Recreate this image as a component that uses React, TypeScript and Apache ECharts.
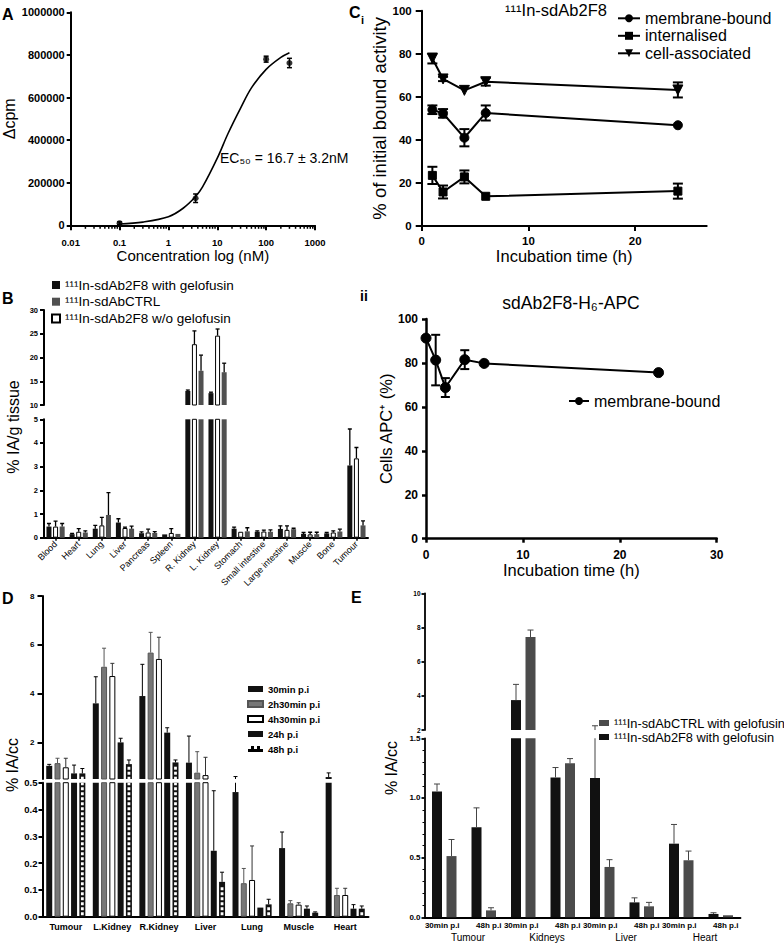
import React, { useEffect, useRef } from 'react';
import * as echarts from 'echarts';

const FONT = '"Liberation Sans", Arial, Helvetica, sans-serif';

// ---------- Panel A ----------
const A_CONC = [0.1, 3.6, 100, 300];
const A_DCPM = [10000, 127000, 780000, 762000];
const A_DCPM_ERR = [6000, 20000, 14000, 22000];
const A_FIT_CONC = [0.1, 0.3, 1, 2, 3.6, 5, 10, 16.7, 30, 50, 100, 200, 300];
const A_FIT_DCPM = [6000, 15000, 40000, 80000, 135000, 180000, 315000, 432000, 550000, 645000, 732000, 788000, 810000];
const A_MINOR_TICKS = [
  0.02, 0.03, 0.04, 0.05, 0.06, 0.07, 0.08, 0.09,
  0.2, 0.3, 0.4, 0.5, 0.6, 0.7, 0.8, 0.9,
  2, 3, 4, 5, 6, 7, 8, 9,
  20, 30, 40, 50, 60, 70, 80, 90,
  200, 300, 400, 500, 600, 700, 800, 900,
];

// ---------- Panel Ci ----------
const CI_TIME = [1, 2, 4, 6, 24];
const CI_MEMBRANE = [54, 52.3, 41, 52.5, 46.8];
const CI_MEMBRANE_ERR = [2, 2, 4, 3.5, 0];
const CI_INTERNAL = [23.5, 15.8, 22.8, 13.8, 16.2];
const CI_INTERNAL_ERR = [4, 3, 3, 0, 3.5];
const CI_CELL = [77.8, 68.3, 63, 67, 63.2];
const CI_CELL_ERR = [2.3, 1, 0, 1.8, 3.5];

// ---------- Panel Cii ----------
const CII_TIME = [0, 1, 2, 4, 6, 24];
const CII_MEMBRANE = [91.3, 81.3, 68.8, 81.5, 79.8, 75.6];
const CII_MEMBRANE_ERR = [0, 11.5, 4.3, 4.3, 0, 0];

// ---------- Panel B ----------
const B_ORGANS = ['Blood', 'Heart', 'Lung', 'Liver', 'Pancreas', 'Spleen', 'R. Kidney', 'L. Kidney', 'Stomach', 'Small intestine', 'Large intestine', 'Muscle', 'Bone', 'Tumour'];
const B_GELO = [0.47, 0.15, 0.38, 0.64, 0.19, 0.14, 12.95, 12.5, 0.38, 0.25, 0.37, 0.16, 0.18, 3.05];
const B_GELO_ERR = [0.13, 0.03, 0.14, 0.16, 0.06, 0.02, 0.2, 0.2, 0.07, 0.04, 0.13, 0.06, 0.04, 1.54];
const B_NOGELO = [0.47, 0.25, 0.52, 0.41, 0.22, 0.2, 22.8, 24.6, 0.25, 0.26, 0.33, 0.14, 0.22, 3.35];
const B_NOGELO_ERR = [0.23, 0.13, 0.34, 0.04, 0.14, 0.18, 2.8, 1.4, 0.02, 0.06, 0.17, 0.09, 0.07, 0.46];
const B_CTRL = [0.47, 0.22, 0.96, 0.38, 0.2, 0.16, 17.2, 16.9, 0.27, 0.25, 0.36, 0.15, 0.26, 0.52];
const B_CTRL_ERR = [0.13, 0.07, 0.94, 0.11, 0.06, 0.02, 3.3, 1.9, 0.15, 0.08, 0.04, 0.08, 0.1, 0.19];

// ---------- Panel D ----------
const D_ORGANS = ['Tumour', 'L.Kidney', 'R.Kidney', 'Liver', 'Lung', 'Muscle', 'Heart'];
const D_30MIN = [1.04, 3.6, 3.9, 1.17, 0.465, 0.256, 0.58];
const D_30MIN_ERR = [0.06, 1.09, 1.3, 1.09, 0.135, 0.06, 0.17];
const D_2H30 = [1.15, 5.1, 5.68, 0.76, 0.125, 0.05, 0.081];
const D_2H30_ERR = [0.2, 0.76, 0.83, 0.86, 0.055, 0.01, 0.025];
const D_4H30 = [0.98, 4.72, 5.42, 0.66, 0.137, 0.045, 0.081];
const D_4H30_ERR = [0.37, 0.52, 0.89, 0.73, 0.127, 0.007, 0.025];
const D_24H = [0.73, 2.0, 2.4, 0.246, 0.034, 0.03, 0.03];
const D_24H_ERR = [0.34, 0.17, 0.2, 0.224, 0, 0.01, 0.015];
const D_48H = [0.73, 1.11, 1.18, 0.13, 0.046, 0.015, 0.03];
const D_48H_ERR = [0.2, 0.17, 0.1, 0.036, 0.019, 0.003, 0.01];

// ---------- Panel E ----------
const E_TISSUES = ['Tumour', 'Kidneys', 'Liver', 'Heart'];
const E_TIMEPOINTS = ['30min p.i', '48h p.i'];
const E_2F8 = [1.055, 0.755, 3.75, 1.172, 1.167, 0.125, 0.617, 0.028];
const E_2F8_ERR = [0.062, 0.162, 0.92, 0.083, 1.08, 0.038, 0.161, 0.01];
const E_CTRL = [0.513, 0.058, 7.44, 1.29, 0.422, 0.092, 0.478, 0.017];
const E_CTRL_ERR = [0.139, 0.022, 0.41, 0.04, 0.061, 0.033, 0.077, 0.004];

const E_CATS = E_TISSUES.flatMap(() => E_TIMEPOINTS);

const N_GELO = '¹¹¹In-sdAb2F8 with gelofusin';
const N_CTRL = '¹¹¹In-sdAbCTRL';
const N_NOGELO = '¹¹¹In-sdAb2F8 w/o gelofusin';
const N_E_CTRL = '¹¹¹In-sdAbCTRL with gelofusin';
const D_NAMES = ['30min p.i', '2h30min p.i', '4h30min p.i', '24h p.i', '48h p.i'];

const BLACK = '#111111';

function symErr(xs: number[], ys: number[], errs: number[], axis: number, capHalf: number, lw: number) {
  return {
    type: 'custom',
    xAxisIndex: axis,
    yAxisIndex: axis,
    z: 4,
    silent: true,
    data: xs.map((x, i) => [x, ys[i] - errs[i], ys[i] + errs[i]]),
    renderItem: (_p: any, api: any) => {
      const lo = api.coord([api.value(0), api.value(1)]);
      const hi = api.coord([api.value(0), api.value(2)]);
      if (Math.abs(lo[1] - hi[1]) < 0.5) return { type: 'group', children: [] };
      const x = lo[0];
      const st = { stroke: '#000', lineWidth: lw };
      return {
        type: 'group',
        children: [
          { type: 'line', shape: { x1: x, y1: lo[1], x2: x, y2: hi[1] }, style: st },
          { type: 'line', shape: { x1: x - capHalf, y1: lo[1], x2: x + capHalf, y2: lo[1] }, style: st },
          { type: 'line', shape: { x1: x - capHalf, y1: hi[1], x2: x + capHalf, y2: hi[1] }, style: st },
        ],
      };
    },
  };
}

function barCenter(cx: number, idx: number, n: number, w: number, gap: number) {
  const total = n * w + (n - 1) * gap;
  return cx - total / 2 + w / 2 + idx * (w + gap);
}

function barErr(values: number[], errs: number[], axis: number, idx: number, n: number, w: number, gap: number, color: string, capHalf: number, lw: number) {
  return {
    type: 'custom',
    xAxisIndex: axis,
    yAxisIndex: axis,
    z: 4,
    silent: true,
    clip: true,
    data: values.map((v, i) => [i, v, v + errs[i]]),
    renderItem: (_p: any, api: any) => {
      const b = api.coord([api.value(0), api.value(1)]);
      const t = api.coord([api.value(0), api.value(2)]);
      if (b[1] - t[1] < 0.5) return { type: 'group', children: [] };
      const x = barCenter(b[0], idx, n, w, gap);
      const st = { stroke: color, lineWidth: lw };
      return {
        type: 'group',
        children: [
          { type: 'line', shape: { x1: x, y1: b[1], x2: x, y2: t[1] }, style: st },
          { type: 'line', shape: { x1: x - capHalf, y1: t[1], x2: x + capHalf, y2: t[1] }, style: st },
        ],
      };
    },
  };
}

function checker(values: number[], axis: number, idx: number, n: number, w: number, gap: number) {
  return {
    type: 'custom',
    xAxisIndex: axis,
    yAxisIndex: axis,
    z: 3,
    silent: true,
    clip: true,
    data: values.map((v, i) => [i, v]),
    renderItem: (_p: any, api: any) => {
      const b = api.coord([api.value(0), 0]);
      const t = api.coord([api.value(0), api.value(1)]);
      const x = barCenter(b[0], idx, n, w, gap);
      const children: any[] = [];
      for (let y = b[1] - 1.5; y - 3 >= t[1] + 1; y -= 5) {
        children.push({ type: 'rect', shape: { x: x - 1.4, y: y - 3, width: 2.8, height: 3 }, style: { fill: '#fff' } });
      }
      return { type: 'group', children };
    },
  };
}

function bar(name: string, data: number[], axis: number, w: number, gapPct: string, color: string, border?: string, bw?: number) {
  return {
    type: 'bar',
    name,
    xAxisIndex: axis,
    yAxisIndex: axis,
    data,
    barWidth: w,
    barGap: gapPct,
    clip: true,
    z: 2,
    itemStyle: { color, borderColor: border || color, borderWidth: bw || 0 },
  };
}

const numFmt = (v: number) => String(+Number(v).toPrecision(6));

function vAxis(grid: number, extra: any, lw: number, tickLen: number, labelSize: number, margin: number) {
  return {
    gridIndex: grid,
    type: 'value',
    splitLine: { show: false },
    axisLine: { show: true, onZero: false, lineStyle: { color: '#000', width: lw } },
    axisTick: { show: true, length: tickLen, lineStyle: { color: '#000', width: lw }, ...(extra.tickExtra || {}) },
    axisLabel: { color: '#000', fontWeight: 'bold', fontSize: labelSize, margin, fontFamily: FONT, formatter: numFmt, ...(extra.labelExtra || {}) },
    ...extra.base,
  };
}

export default function App() {
  const ref = useRef<HTMLDivElement>(null);

  useEffect(() => {
    if (!ref.current) return;
    const chart = echarts.init(ref.current, undefined, { renderer: 'svg' });

    const grids = [
      { left: 70.7, top: 12.3, width: 244.3, height: 213 }, // A
      { left: 421.7, top: 10.7, width: 285, height: 215.3 }, // Ci
      { left: 426, top: 319, width: 290.7, height: 219.7 }, // Cii
      { left: 44, top: 310, width: 324, height: 95 }, // B upper
      { left: 44, top: 419.3, width: 324, height: 118.4 }, // B lower
      { left: 42.5, top: 596, width: 326, height: 183 }, // D upper
      { left: 42.5, top: 782.7, width: 326, height: 134 }, // D lower
      { left: 424.5, top: 593.3, width: 316, height: 136.7 }, // E upper
      { left: 424.5, top: 738.3, width: 316, height: 179 }, // E lower
    ].map((g) => ({ ...g, outerBoundsMode: 'none', containLabel: false, show: false }));

    const catAxisHidden = (grid: number, data: string[]) => ({ gridIndex: grid, type: 'category', data, show: false });

    const xAxis: any[] = [
      vAxis(0, {
        base: {
          type: 'log', logBase: 10, min: 0.01, max: 1000,
          name: 'Concentration log (nM)', nameLocation: 'middle', nameGap: 23,
          nameTextStyle: { fontSize: 15, color: '#000', fontFamily: FONT },
        },
      }, 2, 5, 9.5, 12),
      vAxis(1, {
        base: {
          min: 0, max: 26.7,
          name: 'Incubation time (h)', nameLocation: 'middle', nameGap: 20,
          nameTextStyle: { fontSize: 16.5, color: '#000', fontFamily: FONT },
        },
        tickExtra: { customValues: [0, 10, 20] },
        labelExtra: { customValues: [0, 10, 20] },
      }, 2, 5, 11.5, 9),
      vAxis(2, {
        base: {
          min: 0, max: 30, interval: 10,
          name: 'Incubation time (h)', nameLocation: 'middle', nameGap: 23,
          nameTextStyle: { fontSize: 16.5, color: '#000', fontFamily: FONT },
        },
      }, 2.5, 4, 12, 10),
      catAxisHidden(3, B_ORGANS),
      {
        gridIndex: 4, type: 'category', data: B_ORGANS,
        axisLine: { show: true, onZero: false, lineStyle: { color: '#000', width: 2 } },
        axisTick: { show: true, alignWithLabel: true, length: 3, lineStyle: { color: '#000', width: 1.5 } },
        axisLabel: { interval: 0, rotate: 45, fontSize: 9, color: '#000', margin: 5, fontFamily: FONT },
      },
      catAxisHidden(5, D_ORGANS),
      {
        gridIndex: 6, type: 'category', data: D_ORGANS,
        axisLine: { show: true, onZero: false, lineStyle: { color: '#000', width: 2 } },
        axisTick: { show: false },
        axisLabel: { interval: 0, fontSize: 9, fontWeight: 'bold', color: '#000', margin: 6, fontFamily: FONT },
      },
      catAxisHidden(7, E_CATS),
      {
        gridIndex: 8, type: 'category', data: E_CATS,
        axisLine: { show: true, onZero: false, lineStyle: { color: '#000', width: 1.8 } },
        axisTick: { show: false },
        axisLabel: {
          interval: 0, margin: 4, fontFamily: FONT,
          formatter: (v: string, i: number) => (i % 2 === 0 ? `{a|${v}}` : `{b|${v}}`),
          rich: {
            a: { fontSize: 8, fontWeight: 'bold', color: '#000', padding: [0, 4, 0, 0], fontFamily: FONT },
            b: { fontSize: 8, fontWeight: 'bold', color: '#000', padding: [0, 0, 0, 10], fontFamily: FONT },
          },
        },
      },
      {
        gridIndex: 8, type: 'category', data: E_TISSUES, position: 'bottom', offset: 13,
        axisLine: { show: false }, axisTick: { show: false },
        axisLabel: { interval: 0, fontSize: 10, color: '#000', margin: 2, padding: [0, 0, 0, 8], fontFamily: FONT },
      },
    ];

    const yAxis: any[] = [
      vAxis(0, {
        base: {
          min: 0, max: 1000000, interval: 200000,
          name: 'Δcpm', nameLocation: 'middle', nameGap: 50,
          nameTextStyle: { fontSize: 16, color: '#000', fontFamily: FONT },
        },
      }, 2, 4, 11, 6),
      vAxis(1, {
        base: {
          min: 0, max: 100, interval: 20,
          name: '% of initial bound activity', nameLocation: 'middle', nameGap: 25,
          nameTextStyle: { fontSize: 18.5, color: '#000', fontFamily: FONT },
        },
      }, 2, 6, 11.5, 10),
      vAxis(2, {
        base: {
          min: 0, max: 100, interval: 20,
          name: 'Cells APC⁺ (%)', nameLocation: 'middle', nameGap: 28,
          nameTextStyle: { fontSize: 16.5, color: '#000', fontFamily: FONT },
        },
      }, 2.5, 4, 12, 8),
      vAxis(3, { base: { min: 10, max: 30, interval: 5 } }, 2, 4, 7.5, 6),
      vAxis(4, { base: { min: 0, max: 5, interval: 1 } }, 2, 4, 7.5, 6),
      vAxis(5, {
        base: { min: 0.5, max: 8 },
        tickExtra: { customValues: [2, 4, 6, 8] },
        labelExtra: { customValues: [2, 4, 6, 8] },
      }, 2, 5, 8, 8),
      vAxis(6, {
        base: { min: 0, max: 0.5, interval: 0.1 },
        labelExtra: { formatter: (v: number) => Number(v).toFixed(1) },
      }, 2, 4, 9.5, 5),
      vAxis(7, { base: { min: 2, max: 10, interval: 2 } }, 1.8, 3, 6.5, 4),
      vAxis(8, {
        base: {
          min: 0, max: 1.5, interval: 0.5,
          minorTick: { show: true, splitNumber: 5, length: 2, lineStyle: { color: '#000', width: 1 } },
        },
        labelExtra: { formatter: (v: number) => Number(v).toFixed(1) },
      }, 1.8, 3, 8, 4),
    ];

    const series: any[] = [];

    // ----- A -----
    series.push({
      type: 'line', name: 'fit', xAxisIndex: 0, yAxisIndex: 0, smooth: 0.35, showSymbol: false, silent: true,
      data: A_FIT_CONC.map((c, i) => [c, A_FIT_DCPM[i]]),
      lineStyle: { color: '#000', width: 1.6 },
    });
    series.push({
      type: 'scatter', name: 'points', xAxisIndex: 0, yAxisIndex: 0, symbolSize: 6, z: 5,
      data: A_CONC.map((c, i) => [c, A_DCPM[i]]),
      itemStyle: { color: '#000' },
    });
    series.push(symErr(A_CONC, A_DCPM, A_DCPM_ERR, 0, 2.5, 1.5));
    series.push({
      type: 'custom', xAxisIndex: 0, yAxisIndex: 0, silent: true, z: 6,
      data: A_MINOR_TICKS.map((v) => [v, 0]),
      renderItem: (_p: any, api: any) => {
        const pt = api.coord([api.value(0), api.value(1)]);
        return { type: 'line', shape: { x1: pt[0], y1: pt[1], x2: pt[0], y2: pt[1] + 3.5 }, style: { stroke: '#000', lineWidth: 1.5 } };
      },
    });

    // ----- Ci -----
    const lineS = (name: string, xs: number[], ys: number[], axis: number, symbol: string, size: number, rot = 0) => ({
      type: 'line', name, xAxisIndex: axis, yAxisIndex: axis, data: xs.map((x, i) => [x, ys[i]]),
      symbol, symbolSize: size, symbolRotate: rot, showSymbol: true, z: 5,
      lineStyle: { color: '#000', width: 2 }, itemStyle: { color: '#000', borderColor: '#000' },
    });
    series.push(lineS('membrane-bound', CI_TIME, CI_MEMBRANE, 1, 'circle', 9));
    series.push(lineS('internalised', CI_TIME, CI_INTERNAL, 1, 'rect', 8));
    series.push(lineS('cell-associated', CI_TIME, CI_CELL, 1, 'triangle', 10, 180));
    series.push(symErr(CI_TIME, CI_MEMBRANE, CI_MEMBRANE_ERR, 1, 5, 2));
    series.push(symErr(CI_TIME, CI_INTERNAL, CI_INTERNAL_ERR, 1, 5, 2));
    series.push(symErr(CI_TIME, CI_CELL, CI_CELL_ERR, 1, 5, 2));

    // ----- Cii -----
    series.push(lineS('membrane-bound', CII_TIME, CII_MEMBRANE, 2, 'circle', 10));
    series.push(symErr(CII_TIME, CII_MEMBRANE, CII_MEMBRANE_ERR, 2, 4.5, 2));

    // ----- B -----
    const BW = 5, BG = '32%', BGPX = 1.6;
    [3, 4].forEach((ax) => {
      series.push(bar(N_GELO, B_GELO, ax, BW, BG, BLACK));
      series.push(bar(N_NOGELO, B_NOGELO, ax, BW, BG, '#ffffff', '#000', 1));
      series.push(bar(N_CTRL, B_CTRL, ax, BW, BG, '#505050'));
      series.push(barErr(B_GELO, B_GELO_ERR, ax, 0, 3, BW, BGPX, '#000', 2, 1.3));
      series.push(barErr(B_NOGELO, B_NOGELO_ERR, ax, 1, 3, BW, BGPX, '#000', 2, 1.3));
      series.push(barErr(B_CTRL, B_CTRL_ERR, ax, 2, 3, BW, BGPX, '#000', 2, 1.3));
    });

    // ----- D -----
    const DW = 6, DG = '38%', DGPX = 6 * 0.38;
    const dVals = [D_30MIN, D_2H30, D_4H30, D_24H, D_48H];
    const dErrs = [D_30MIN_ERR, D_2H30_ERR, D_4H30_ERR, D_24H_ERR, D_48H_ERR];
    const dFill = [BLACK, '#777777', '#ffffff', BLACK, BLACK];
    const dBorder = [BLACK, '#555555', '#000000', BLACK, BLACK];
    const dErrColor = ['#000', '#555', '#333', '#000', '#000'];
    [5, 6].forEach((ax) => {
      dVals.forEach((vals, k) => {
        series.push(bar(D_NAMES[k], vals, ax, DW, DG, dFill[k], dBorder[k], k === 2 || k === 1 ? 1 : 0));
        series.push(barErr(vals, dErrs[k], ax, k, 5, DW, DGPX, dErrColor[k], 2, 1));
      });
      series.push(checker(D_48H, ax, 4, 5, DW, DGPX));
    });

    // ----- E -----
    const EW = 10, EG = '45%', EGPX = 4.5;
    [7, 8].forEach((ax) => {
      series.push(bar(N_GELO, E_2F8, ax, EW, EG, BLACK));
      series.push(bar(N_E_CTRL, E_CTRL, ax, EW, EG, '#4b4b4b'));
      series.push(barErr(E_2F8, E_2F8_ERR, ax, 0, 2, EW, EGPX, '#444', 3, 1));
      series.push(barErr(E_CTRL, E_CTRL_ERR, ax, 1, 2, EW, EGPX, '#444', 3, 1));
    });

    const legendBase = {
      orient: 'vertical', selectedMode: false, padding: 0,
    };

    const dLegendData: any[] = D_NAMES.map((n, k) =>
      k === 4
        ? {
            name: n,
            itemStyle: {
              color: '#000',
              decal: { symbol: 'rect', symbolSize: 1, color: '#fff', dashArrayX: [3, 3], dashArrayY: [3, 3], rotation: 0 },
            },
          }
        : n,
    );

    const legend: any[] = [
      {
        ...legendBase, left: 617, top: 10.3, itemWidth: 22, itemHeight: 10, itemGap: 1.5,
        data: ['membrane-bound', 'internalised', 'cell-associated'],
        textStyle: { fontSize: 16, lineHeight: 16, color: '#000', fontFamily: FONT },
      },
      {
        ...legendBase, left: 568, top: 393, itemWidth: 20, itemHeight: 10,
        data: ['membrane-bound'],
        textStyle: { fontSize: 16, lineHeight: 16, color: '#000', fontFamily: FONT },
      },
      {
        ...legendBase, left: 51, top: 277.5, itemWidth: 8, itemHeight: 8, itemGap: 1.7, icon: 'rect',
        data: [N_GELO, N_CTRL, N_NOGELO],
        textStyle: { fontSize: 13.5, lineHeight: 15, color: '#000', fontFamily: FONT },
      },
      {
        ...legendBase, left: 247, top: 684, itemWidth: 15, itemHeight: 6, itemGap: 5, icon: 'rect',
        data: dLegendData,
        textStyle: { fontSize: 9.5, lineHeight: 10, fontWeight: 'bold', color: '#000', fontFamily: FONT },
      },
      {
        ...legendBase, left: 599, top: 716.5, itemWidth: 10, itemHeight: 6, itemGap: 1, icon: 'rect',
        data: [N_E_CTRL, N_GELO],
        textStyle: { fontSize: 12.8, lineHeight: 12, color: '#000', fontFamily: FONT },
      },
    ];

    const txt = (text: string, x: number, y: number, size: number, opts: any = {}) => ({
      type: 'text', x, y, rotation: opts.rotation || 0, silent: true,
      style: {
        text, fontSize: size, fontWeight: opts.bold ? 'bold' : 'normal', fontFamily: FONT, fill: '#000',
        align: opts.align || 'left', verticalAlign: 'middle',
      },
    });

    const graphic = [
      txt('A', 2, 14, 16, { bold: true }),
      txt('C', 349, 12, 16, { bold: true }),
      txt('i', 361, 20, 11, { bold: true }),
      txt('ii', 360, 296, 14, { bold: true }),
      txt('B', 2, 298, 16, { bold: true }),
      txt('D', 2, 598, 16, { bold: true }),
      txt('E', 351, 597, 16, { bold: true }),
      txt('EC₅₀ = 16.7 ± 3.2nM', 220, 158, 14),
      txt('¹¹¹In-sdAb2F8', 556, 10, 16.5, { align: 'center' }),
      txt('sdAb2F8-H₆-APC', 571, 303, 17.5, { align: 'center' }),
      txt('% IA/g tissue', 13, 427, 16, { align: 'center', rotation: Math.PI / 2 }),
      txt('% IA/cc', 12, 765, 16, { align: 'center', rotation: Math.PI / 2 }),
      txt('% IA/cc', 391, 768, 16, { align: 'center', rotation: Math.PI / 2 }),
    ];

    chart.setOption({
      animation: false,
      backgroundColor: '#ffffff',
      textStyle: { fontFamily: FONT, color: '#000' },
      grid: grids,
      xAxis,
      yAxis,
      legend,
      series,
      graphic,
    });

    return () => chart.dispose();
  }, []);

  return <div ref={ref} style={{ position: 'absolute', left: 0, top: 0, width: 784, height: 944 }} />;
}
